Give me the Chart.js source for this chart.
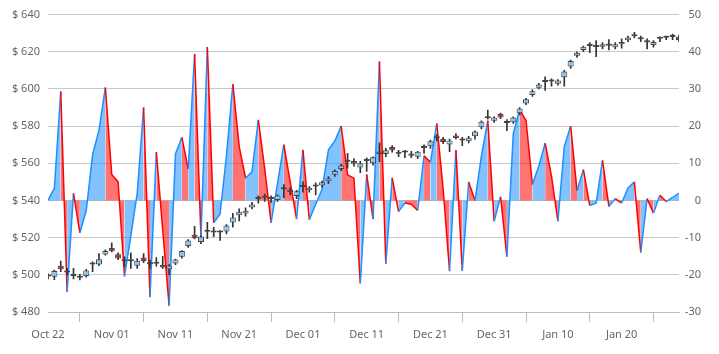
<!DOCTYPE html>
<html>
<head>
<meta charset="utf-8">
<script src="https://cdn.jsdelivr.net/npm/chart.js@4.4.1/dist/chart.umd.min.js"></script>
<style>
  html, body { margin: 0; padding: 0; background: #fff; }
  #chart { display: block; }
</style>
</head>
<body>
<canvas id="chart" width="719" height="354"></canvas>
<script>
// first day of the series, one point per calendar day
const startDate = new Date(2018, 9, 22);
const monthNames = ["Jan", "Feb", "Mar", "Apr", "May", "Jun", "Jul", "Aug", "Sep", "Oct", "Nov", "Dec"];

const openP = [
  499.3, 499.0, 504.9, 501.5, 500.5, 498.6, 499.4, 505.5, 505.6, 511.0,
  514.4, 511.1, 507.5, 507.5, 504.9, 509.3, 505.9, 506.2, 505.3, 503.0,
  506.1, 509.7, 515.5, 521.5, 517.6, 523.4, 523.0, 523.0, 523.3, 528.2,
  532.1, 533.0, 536.2, 541.0, 541.6, 541.0, 540.2, 546.3, 545.9, 542.4,
  547.4, 545.5, 547.7, 548.0, 550.3, 553.8, 557.0, 561.0, 561.3, 557.8,
  561.4, 560.0, 566.3, 565.0, 568.8, 565.4, 566.0, 565.3, 563.5, 568.4,
  569.2, 573.7, 573.2, 570.1, 575.0, 572.4, 571.8, 574.5, 579.4, 585.3,
  582.9, 586.5, 581.9, 582.1, 586.9, 592.2, 596.7, 600.6, 603.9, 604.2,
  602.8, 606.3, 612.1, 617.9, 620.9, 623.3, 622.8, 622.7, 624.5, 622.5,
  624.0, 626.2, 628.6, 627.8, 626.2, 623.6, 627.2, 627.8, 628.0, 628.0
];
const highP = [
  500.5, 502.6, 507.4, 503.5, 503.5, 500.3, 503.0, 507.0, 511.4, 513.5,
  517.2, 511.8, 509.7, 511.8, 508.8, 511.4, 508.0, 509.3, 510.0, 505.5,
  508.5, 513.0, 519.0, 526.1, 521.0, 528.2, 525.5, 523.8, 527.0, 533.1,
  535.5, 536.0, 539.0, 542.5, 543.5, 542.5, 543.0, 548.5, 547.0, 545.5,
  550.0, 547.5, 549.5, 550.5, 552.8, 556.5, 559.5, 565.3, 562.5, 561.0,
  563.0, 563.5, 571.0, 568.0, 569.5, 567.0, 567.0, 566.5, 566.5, 570.0,
  572.5, 575.5, 574.0, 573.0, 576.0, 574.0, 574.5, 577.5, 582.8, 588.6,
  585.0, 587.0, 583.5, 585.0, 590.0, 595.0, 599.5, 603.0, 606.5, 605.5,
  605.0, 610.0, 615.5, 620.0, 623.0, 625.0, 626.0, 625.0, 626.5, 625.0,
  627.0, 628.5, 630.5, 628.5, 627.0, 626.0, 628.0, 628.5, 629.5, 629.0
];
const lowP = [
  497.8, 497.4, 501.7, 500.0, 497.8, 497.3, 498.7, 501.7, 504.9, 510.6,
  512.3, 508.2, 504.4, 503.5, 503.5, 506.5, 503.5, 504.7, 503.5, 500.0,
  505.5, 509.0, 514.8, 519.3, 516.8, 519.4, 520.5, 518.5, 522.0, 525.6,
  529.0, 531.5, 535.5, 538.5, 539.5, 539.0, 539.5, 541.5, 543.0, 541.0,
  544.5, 544.5, 543.0, 547.0, 549.0, 553.0, 556.0, 557.4, 558.5, 555.0,
  555.6, 559.0, 560.9, 563.5, 566.0, 563.5, 563.0, 563.0, 562.5, 565.3,
  568.0, 572.0, 570.5, 566.2, 573.0, 569.5, 571.0, 573.0, 578.5, 583.8,
  582.0, 584.0, 577.6, 581.5, 586.0, 591.5, 596.0, 600.0, 599.2, 601.5,
  602.0, 601.5, 611.0, 617.0, 620.0, 619.5, 617.4, 621.5, 621.0, 621.5,
  622.0, 625.5, 627.5, 625.5, 621.5, 622.5, 625.5, 626.5, 626.5, 625.5
];
const closeP = [
  499.1, 502.0, 503.0, 501.3, 499.4, 498.4, 502.3, 505.7, 508.4, 512.8,
  512.7, 508.8, 507.3, 507.3, 507.6, 507.4, 505.7, 506.0, 504.0, 505.0,
  508.2, 512.8, 518.5, 519.7, 520.6, 523.2, 522.8, 522.8, 526.5, 530.9,
  533.9, 534.5, 537.9, 540.8, 541.4, 540.8, 542.7, 546.1, 544.5, 545.0,
  547.2, 546.8, 547.5, 549.8, 552.0, 555.9, 558.8, 560.8, 559.8, 560.0,
  561.2, 563.2, 565.0, 567.0, 567.0, 565.2, 565.8, 564.1, 566.2, 568.2,
  571.8, 573.5, 571.5, 572.3, 573.6, 572.2, 573.8, 577.1, 582.4, 584.2,
  584.7, 584.7, 581.7, 584.7, 589.5, 594.4, 598.8, 602.4, 603.7, 604.0,
  604.5, 609.4, 615.1, 619.5, 622.7, 623.1, 622.6, 624.0, 623.2, 624.0,
  625.3, 627.7, 628.4, 626.7, 625.0, 625.3, 627.0, 627.6, 628.7, 626.3
];
// values on the right axis
const changeVals = [
  0, 3.3, 29.3, -24.6, 1.9, -8.7, -2.7, 12.3, 18.9, 30.4,
  7, 5, -20.4, -9.5, 2, 25, -26, 13, -8, -28.3,
  12.5, 17, 8.5, 39.4, -10, 41.3, -6, -3.6, 12, 31.3,
  14.5, 6, 7.7, 21.7, 8.5, -6, 4.5, 15, 5, -5,
  13.6, -5.2, -1, 3, 13.6, 16, 20, 6.9, 6, -22.3,
  7, -5, 37.4, -17, 6.1, -3, -0.7, -1, -2.7, 12,
  10.3, 20.7, 3, -19, 13.6, -18.9, 5, 0, 12, 21.5,
  -5.6, 1, -15.1, 18, 24.4, 21.5, 4.3, 9.2, 15.4, 6.5,
  -5.6, 14.5, 20, 2.6, 8.3, -1.4, -0.7, 10.8, -1.6, 0.5,
  -0.7, 3.4, 5, -14, 0.5, -3.4, 1.4, -0.3, 0.8, 2
];

const dayIndex = openP.map((_, i) => i);

const upBody = "#8cc7f4";
const downBody = "#c0292e";
const candleEdge = "#444";
const riseLine = "#1e8fff";
const fallLine = "#ff0000";
const riseFill = "rgba(30, 143, 255, 0.55)";
const fallFill = "rgba(255, 0, 0, 0.55)";

function dayLabel(v) {
    const d = new Date(startDate.getTime());
    d.setDate(d.getDate() + v);
    return monthNames[d.getMonth()] + " " + String(d.getDate()).padStart(2, "0");
}

const tickFont = { family: "'Noto Sans', sans-serif", size: 11 };

new Chart(document.getElementById("chart"), {
    data: {
        datasets: [
            {
                type: "bar",
                label: "body",
                data: dayIndex.map(i => ({ x: i, y: [openP[i], closeP[i]] })),
                backgroundColor: ctx => closeP[ctx.dataIndex] >= openP[ctx.dataIndex] ? upBody : downBody,
                borderColor: candleEdge,
                borderWidth: 1,
                borderSkipped: false,
                minBarLength: 2,
                grouped: false,
                barPercentage: 0.95,
                categoryPercentage: 1,
                yAxisID: "yPrice",
                clip: 0,
                order: 1
            },
            {
                type: "bar",
                label: "wick",
                data: dayIndex.map(i => ({ x: i, y: [lowP[i], highP[i]] })),
                backgroundColor: "#333",
                barThickness: 1,
                grouped: false,
                yAxisID: "yPrice",
                clip: 0,
                order: 2
            },
            {
                type: "line",
                label: "change",
                data: dayIndex.map(i => ({ x: i, y: changeVals[i] })),
                yAxisID: "yChange",
                fill: { value: 0 },
                borderWidth: 1.5,
                pointRadius: 0,
                tension: 0,
                borderColor: riseLine,
                backgroundColor: riseFill,
                segment: {
                    borderColor: ctx => ctx.p1.parsed.y < ctx.p0.parsed.y ? fallLine : riseLine,
                    backgroundColor: ctx => ctx.p1.parsed.y < ctx.p0.parsed.y ? fallFill : riseFill
                },
                order: 3
            }
        ]
    },
    options: {
        responsive: false,
        animation: false,
        devicePixelRatio: 1,
        layout: { padding: { left: 0, right: 18, top: 10, bottom: 0 } },
        plugins: {
            legend: { display: false },
            tooltip: { enabled: false }
        },
        scales: {
            x: {
                type: "linear",
                min: 0,
                max: 99,
                offset: false,
                afterFit: s => { s.height = 42; },
                grid: { drawOnChartArea: false, drawTicks: true, tickLength: 10, color: "#bdbdbd" },
                border: { display: true, color: "#bdbdbd" },
                ticks: {
                    stepSize: 10,
                    includeBounds: false,
                    autoSkip: false,
                    maxRotation: 0,
                    padding: 6,
                    color: "#666",
                    font: tickFont,
                    callback: v => dayLabel(v)
                }
            },
            yPrice: {
                type: "linear",
                position: "left",
                min: 480,
                max: 640,
                afterFit: s => { s.width = 48; },
                grid: { color: "#c8c8c8", drawTicks: false },
                border: { display: false },
                ticks: {
                    stepSize: 20,
                    padding: 8,
                    color: "#666",
                    font: tickFont,
                    callback: v => "$ " + v
                }
            },
            yChange: {
                type: "linear",
                position: "right",
                min: -30,
                max: 50,
                afterFit: s => { s.width = 22; },
                grid: { display: false },
                border: { display: false },
                ticks: {
                    stepSize: 10,
                    crossAlign: "far",
                    color: "#666",
                    font: tickFont
                }
            }
        }
    }
});
</script>
</body>
</html>
